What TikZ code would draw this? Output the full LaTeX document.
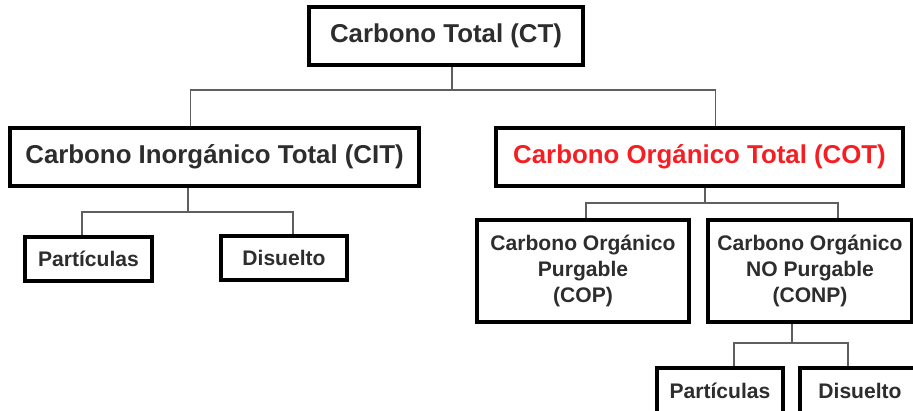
\documentclass[tikz,border=0pt]{standalone}
\usepackage{fontspec}
\setmainfont{Liberation Sans}
\usepackage{xcolor}
\usetikzlibrary{positioning}

\definecolor{txtgray}{RGB}{45,45,45}
\definecolor{linegray}{RGB}{95,95,95}
\definecolor{cotred}{RGB}{245,30,35}

\begin{document}
\begin{tikzpicture}[
    x=0.02cm, y=-0.02cm,
    box/.style={rectangle, draw=black, line width=2.2pt, fill=white, inner sep=0pt, align=center, text=txtgray, font=\bfseries\fontsize{14.7}{17}\selectfont},
    smallbox/.style={box, font=\bfseries\fontsize{12}{15}\selectfont},
    link/.style={draw=linegray, line width=1.1pt}
]
\useasboundingbox (0,0) rectangle (913,411);
\clip (0,0) rectangle (913,411);

% Level 0
\node[box, minimum width=5.48cm, minimum height=1.16cm] (ct) at (446,36) {Carbono Total (CT)};

% Level 1
\node[box, minimum width=8.18cm, minimum height=1.16cm] (cit) at (214.5,157) {Carbono Inorgánico Total (CIT)};
\node[box, minimum width=8.14cm, minimum height=1.16cm, text=cotred] (cot) at (699.5,157) {Carbono Orgánico Total (COT)};

% Level 2
\node[smallbox, minimum width=2.54cm, minimum height=0.88cm] (part1) at (88.5,259) {Partículas};
\node[smallbox, minimum width=2.52cm, minimum height=0.88cm] (dis1) at (284,258) {Disuelto};
\node[smallbox, minimum width=4.24cm, minimum height=2.04cm] (cop) at (583,271) {Carbono Orgánico\\Purgable\\(COP)};
\node[smallbox, minimum width=4.08cm, minimum height=2.04cm] (conp) at (810,271) {Carbono Orgánico\\NO Purgable\\(CONP)};

% Level 3 (cut off by the lower edge)
\node[smallbox, minimum width=2.52cm, minimum height=1.0cm, text depth=0.09cm] (part2) at (720,393) {Partículas};
\node[smallbox, minimum width=2.4cm, minimum height=1.0cm, text depth=0.09cm] (dis2) at (860,393) {Disuelto};

% Connectors
\coordinate (j0) at (452,90);
\coordinate (j1) at (188,212);
\coordinate (j2) at (705,203);
\coordinate (j3) at (792,343);

\draw[link] (ct.south -| j0) -- (j0);
\draw[link] (j0) -| ([xshift=-0.48cm]cit.north);
\draw[link] (j0) -| ([xshift=0.32cm]cot.north);

\draw[link] (cit.south -| j1) -- (j1);
\draw[link] (j1) -| ([xshift=-0.13cm]part1.north);
\draw[link] (j1) -| ([xshift=0.18cm]dis1.north);

\draw[link] (cot.south -| j2) -- (j2);
\draw[link] (j2) -| ([xshift=0.06cm]cop.north);
\draw[link] (j2) -| ([xshift=0.56cm]conp.north);

\draw[link] (conp.south -| j3) -- (j3);
\draw[link] (j3) -| ([xshift=0.28cm]part2.north);
\draw[link] (j3) -| ([xshift=-0.24cm]dis2.north);

\end{tikzpicture}
\end{document}
